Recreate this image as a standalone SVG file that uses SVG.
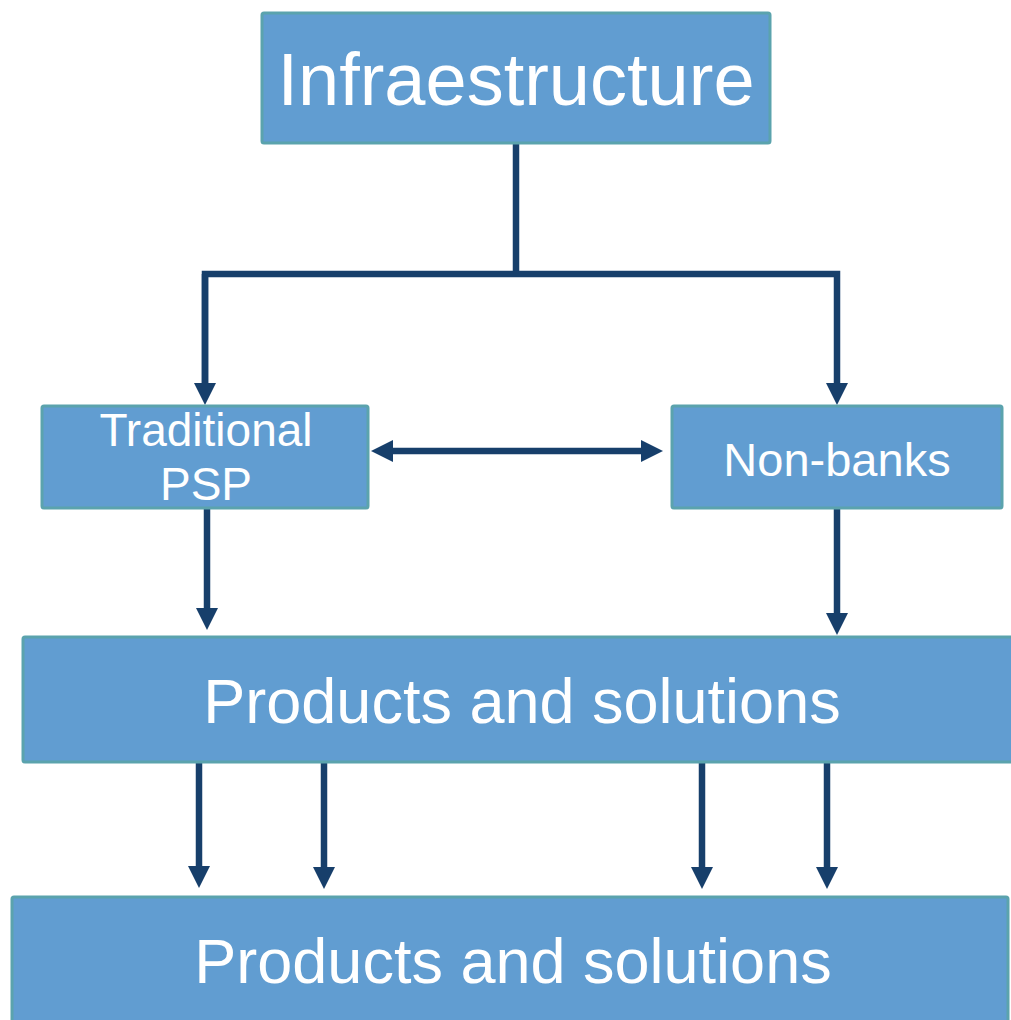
<svg xmlns="http://www.w3.org/2000/svg" width="1011" height="1020" viewBox="0 0 1011 1020">
  <style>
    .box { fill: #619DD1; stroke: #5BA3AD; stroke-width: 3; }
    .lbl { fill: #FFFFFF; font-family: "Liberation Sans", Arial, sans-serif; text-anchor: middle; }
    .conn { fill: none; stroke: #173F6B; stroke-width: 6.5; stroke-linecap: butt; stroke-linejoin: miter; }
  </style>
  <defs>
    <marker id="arrow" markerUnits="userSpaceOnUse" markerWidth="23" markerHeight="22" refX="0" refY="11" orient="auto-start-reverse" viewBox="0 0 23 22">
      <path d="M0,0 L22,11 L0,22 Z" fill="#173F6B"/>
    </marker>
  </defs>
  <rect width="1011" height="1020" fill="#FFFFFF"/>

  <g id="connectors">
    <path class="conn" d="M516,144 V274"/>
    <path class="conn" d="M205,383 V274 H837 V383" marker-end="url(#arrow)"/>
    <path class="conn" d="M205,274 V383" marker-end="url(#arrow)"/>
    <path class="conn" d="M393,451 H641" marker-start="url(#arrow)" marker-end="url(#arrow)"/>
    <path class="conn" d="M207,508 V608" marker-end="url(#arrow)"/>
    <path class="conn" d="M837,508 V613" marker-end="url(#arrow)"/>
    <path class="conn" d="M199,762 V866" marker-end="url(#arrow)"/>
    <path class="conn" d="M324,762 V867" marker-end="url(#arrow)"/>
    <path class="conn" d="M702,762 V867" marker-end="url(#arrow)"/>
    <path class="conn" d="M827,762 V867" marker-end="url(#arrow)"/>
  </g>

  <g id="node-infrastructure">
    <rect class="box" x="262" y="13" width="508" height="130" rx="2"/>
    <text class="lbl" x="516" y="105" font-size="74">Infraestructure</text>
  </g>

  <g id="node-traditional-psp">
    <rect class="box" x="42" y="406" width="326" height="102" rx="2"/>
    <text class="lbl" x="206" y="446" font-size="46">Traditional</text>
    <text class="lbl" x="206" y="500" font-size="46">PSP</text>
  </g>

  <g id="node-non-banks">
    <rect class="box" x="672" y="406" width="330" height="102" rx="2"/>
    <text class="lbl" x="837" y="476" font-size="47">Non-banks</text>
  </g>

  <g id="node-products-1">
    <rect class="box" x="23" y="637" width="995" height="125" rx="2"/>
    <text class="lbl" x="522" y="723" font-size="63">Products and solutions</text>
  </g>

  <g id="node-products-2">
    <rect class="box" x="12" y="897" width="996" height="135" rx="2"/>
    <text class="lbl" x="513" y="983" font-size="63">Products and solutions</text>
  </g>
</svg>
